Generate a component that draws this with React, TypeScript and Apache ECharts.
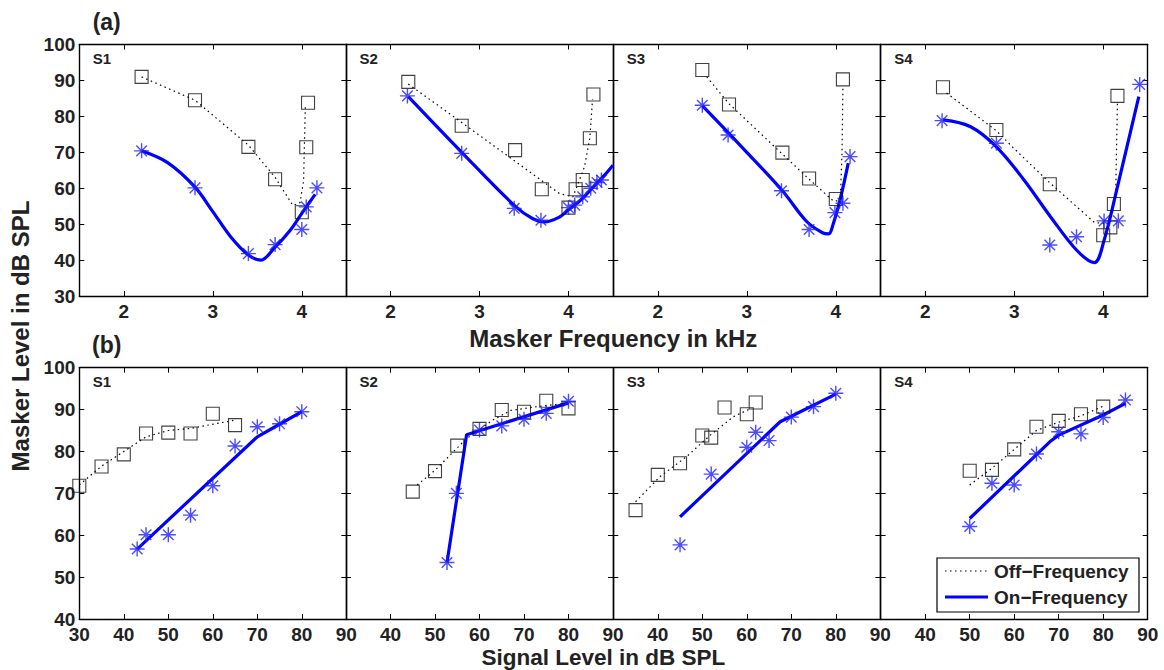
import React, { useEffect, useRef } from "react";
import * as echarts from "echarts";

// ---------- Row (a): masker frequency (kHz) vs masker level (dB SPL) ----------
const aS1OffPts = [[2.2, 91.0], [2.8, 84.5], [3.4, 71.5], [3.7, 62.5], [4.0, 53.3], [4.05, 71.4], [4.07, 83.8]];
const aS1OffFit = [[2.2, 91], [2.8, 84.5], [3.4, 72], [3.7, 63], [3.9, 55.2], [3.98, 56], [4.02, 62], [4.04, 83]];
const aS1OnPts = [[2.2, 70.4], [2.8, 60.1], [3.4, 41.8], [3.7, 44.3], [4.0, 48.5], [4.05, 54.8], [4.17, 60.1]];
const aS1OnFit = [[2.2, 70.4], [2.5, 67], [2.8, 60.3], [3.0, 53.5], [3.2, 46.5], [3.4, 41.4], [3.54, 40], [3.69, 43.3], [3.87, 48.3], [4.0, 53], [4.15, 58.3]];

const aS2OffPts = [[2.2, 89.6], [2.8, 77.4], [3.4, 70.6], [3.7, 59.7], [4.0, 54.6], [4.08, 59.7], [4.16, 62.3], [4.24, 73.9], [4.28, 86.1]];
const aS2OffFit = [[2.2, 89], [2.8, 78.3], [3.4, 67.5], [3.9, 58.5], [4.05, 57.6], [4.18, 66], [4.24, 74], [4.27, 84.7]];
const aS2OnPts = [[2.19, 85.7], [2.8, 69.7], [3.39, 54.4], [3.69, 51.1], [4.0, 54.6], [4.07, 55.3], [4.16, 57.6], [4.25, 60], [4.32, 61.6], [4.37, 62.3]];
const aS2OnFit = [[2.2, 85.5], [2.8, 70], [3.4, 55], [3.6, 51.5], [3.73, 50.6], [3.9, 52], [4.0, 54], [4.15, 57], [4.28, 60.4], [4.4, 63.5], [4.5, 66.4]];

const aS3OffPts = [[2.5, 92.9], [2.8, 83.3], [3.4, 69.9], [3.7, 62.7], [4.0, 57.0], [4.08, 90.3]];
const aS3OffFit = [[2.55, 91], [2.8, 83.5], [3.4, 69.5], [3.7, 62.5], [3.97, 56.5], [4.05, 56.5], [4.07, 70], [4.08, 88]];
const aS3OnPts = [[2.5, 83.1], [2.79, 74.8], [3.39, 59.3], [3.7, 48.5], [3.99, 53.2], [4.08, 55.8], [4.16, 68.8]];
const aS3OnFit = [[2.5, 83], [3.0, 70], [3.4, 59.3], [3.67, 50.8], [3.85, 47.6], [3.92, 47.3], [3.97, 50], [4.05, 57], [4.14, 67]];

const aS4OffPts = [[2.2, 88.1], [2.8, 76.2], [3.4, 61.1], [4.0, 46.9], [4.08, 49.1], [4.12, 55.6], [4.16, 85.7]];
const aS4OffFit = [[2.24, 86.5], [2.8, 76], [3.0, 71], [3.4, 61.5], [3.9, 50.5], [4.05, 50], [4.14, 58], [4.16, 84]];
const aS4OnPts = [[2.19, 78.8], [2.8, 72.5], [3.4, 44.2], [3.7, 46.5], [4.01, 50.9], [4.17, 50.9], [4.41, 88.9]];
const aS4OnFit = [[2.2, 79], [2.51, 77.1], [2.8, 71.5], [3.11, 62.3], [3.41, 52], [3.7, 42.8], [3.9, 39.3], [4.01, 45.5], [4.16, 60.4], [4.4, 85.5]];

// ---------- Row (b): signal level (dB SPL) vs masker level (dB SPL) ----------
const bS1OffPts = [[30, 71.8], [35, 76.4], [40, 79.3], [45, 84.3], [50, 84.5], [55, 84.3], [60, 89.0], [65, 86.3]];
const bS1OffFit = [[30, 72], [35, 76.5], [40, 80], [45, 83.5], [50, 85], [55, 85.5], [60, 86.5], [65, 87.5]];
const bS1OnPts = [[43, 56.7], [45, 60.1], [50, 60.1], [55, 64.8], [60, 71.8], [65, 81.3], [70, 85.9], [75, 86.6], [80, 89.5]];
const bS1OnFit = [[43, 56.7], [70, 83.5], [75, 86.5], [80, 89.5]];

const bS2OffPts = [[45, 70.4], [50, 75.3], [55, 81.4], [60, 85.4], [65, 89.9], [70, 89.5], [75, 92.1], [80, 90.3]];
const bS2OffFit = [[46, 72], [50, 75.5], [57, 83], [63, 87.5], [67, 89.8], [75, 91], [80, 91.5]];
const bS2OnPts = [[52.7, 53.5], [54.8, 70.0], [60, 85.1], [65, 86.1], [70, 87.7], [75, 89.1], [80, 92]];
const bS2OnFit = [[52.7, 53.5], [57.1, 84], [80, 91.6]];

const bS3OffPts = [[35, 66.0], [40, 74.4], [45, 77.2], [50, 83.8], [52, 83.3], [55, 90.5], [60, 88.9], [62, 91.7]];
const bS3OffFit = [[35, 68], [40.5, 74], [46.5, 78.8], [51.8, 83.9], [57, 88.3], [61, 90.3]];
const bS3OnPts = [[45, 57.7], [52, 74.6], [60, 81.0], [62, 84.6], [65, 82.6], [70, 88.2], [75, 90.7], [80, 93.9]];
const bS3OnFit = [[45, 64.4], [67.5, 87.1], [70, 88.4], [80, 93.7]];

const bS4OffPts = [[50, 75.4], [55, 75.6], [60, 80.5], [65, 85.9], [70, 87.3], [75, 88.9], [80, 90.7]];
const bS4OffFit = [[50, 72], [55, 76], [60, 80.5], [65, 85], [70, 87], [75, 88.5], [80, 90.8]];
const bS4OnPts = [[50, 62.1], [55, 72.4], [60, 72.0], [65, 79.4], [70, 84.7], [75, 84.2], [80, 88.1], [85, 92.3]];
const bS4OnFit = [[50, 64], [68, 82.3], [70, 83.9], [80, 88.7], [85, 91.5]];

const subjects = ["S1", "S2", "S3", "S4"];
const topXTicks = [2, 3, 4];
const topYTicks = [30, 40, 50, 60, 70, 80, 90, 100];
const botXTicksFirst = [30, 40, 50, 60, 70, 80, 90];
const botXTicksOther = [40, 50, 60, 70, 80, 90];
const botYTicks = [40, 50, 60, 70, 80, 90, 100];

const panels = [
  { row: 0, off: aS1OffPts, offFit: aS1OffFit, on: aS1OnPts, onFit: aS1OnFit },
  { row: 0, off: aS2OffPts, offFit: aS2OffFit, on: aS2OnPts, onFit: aS2OnFit },
  { row: 0, off: aS3OffPts, offFit: aS3OffFit, on: aS3OnPts, onFit: aS3OnFit },
  { row: 0, off: aS4OffPts, offFit: aS4OffFit, on: aS4OnPts, onFit: aS4OnFit },
  { row: 1, off: bS1OffPts, offFit: bS1OffFit, on: bS1OnPts, onFit: bS1OnFit },
  { row: 1, off: bS2OffPts, offFit: bS2OffFit, on: bS2OnPts, onFit: bS2OnFit },
  { row: 1, off: bS3OffPts, offFit: bS3OffFit, on: bS3OnPts, onFit: bS3OnFit },
  { row: 1, off: bS4OffPts, offFit: bS4OffFit, on: bS4OnPts, onFit: bS4OnFit },
];

const FONT = "'Liberation Sans', Arial, Helvetica, sans-serif";
const TXT = "#222";
const BLUE = "#0000ff";
const STAR = "path://M0,-10L0,10M-10,0L10,0M-7.07,-7.07L7.07,7.07M-7.07,7.07L7.07,-7.07";

const LEFTS = [79.3, 346, 613.3, 880.7];
const PW = 267;
const ROW_TOP = [44.5, 367.7];
const ROW_H = [251.5, 251.3];

function buildOption() {
  const grid: any[] = [];
  const xAxis: any[] = [];
  const yAxis: any[] = [];
  const series: any[] = [];
  const axisLine = { show: true, lineStyle: { color: "#000", width: 1.4 } };
  const tick = { show: true, inside: true, length: 5, lineStyle: { color: "#000", width: 1 } };
  const lab = { color: TXT, fontFamily: FONT, fontWeight: "bold", fontSize: 19 };

  panels.forEach((p, i) => {
    const col = i % 4;
    grid.push({ left: LEFTS[col], top: ROW_TOP[p.row], width: PW, height: ROW_H[p.row], containLabel: false });
  });
  panels.forEach((p, i) => {
    const col = i % 4;
    const xTicks = p.row === 0 ? topXTicks : col === 0 ? botXTicksFirst : botXTicksOther;
    xAxis.push({
      type: "value", gridIndex: i, position: "bottom",
      min: p.row === 0 ? 1.5 : 30, max: p.row === 0 ? 4.5 : 90,
      splitLine: { show: false }, axisLine,
      axisTick: { ...tick, customValues: p.row === 0 ? topXTicks : botXTicksFirst },
      axisLabel: { ...lab, margin: 6, customValues: xTicks, showMinLabel: true, showMaxLabel: true },
    });
    const yT = p.row === 0 ? topYTicks : botYTicks;
    yAxis.push({
      type: "value", gridIndex: i, position: "left",
      min: p.row === 0 ? 30 : 40, max: 100, interval: 10,
      splitLine: { show: false }, axisLine,
      axisTick: { ...tick, customValues: yT },
      axisLabel: { ...lab, show: col === 0, margin: 4, customValues: yT },
    });
  });
  panels.forEach((p, i) => {
    xAxis.push({
      type: "value", gridIndex: i, position: "top",
      min: p.row === 0 ? 1.5 : 30, max: p.row === 0 ? 4.5 : 90,
      splitLine: { show: false }, axisLine,
      axisTick: { ...tick, customValues: p.row === 0 ? topXTicks : botXTicksFirst },
      axisLabel: { show: false },
    });
    const yT = p.row === 0 ? topYTicks : botYTicks;
    yAxis.push({
      type: "value", gridIndex: i, position: "right",
      min: p.row === 0 ? 30 : 40, max: 100, interval: 10,
      splitLine: { show: false }, axisLine,
      axisTick: { ...tick, customValues: yT },
      axisLabel: { show: false },
    });
  });

  panels.forEach((p, i) => {
    series.push({
      type: "line", name: "Off−Frequency", xAxisIndex: i, yAxisIndex: i,
      data: p.offFit, showSymbol: false, symbol: "none", silent: true, z: 2,
      lineStyle: { color: "#000", width: 1.2, type: [1.5, 3.5] },
    });
    series.push({
      type: "line", name: "On−Frequency", xAxisIndex: i, yAxisIndex: i,
      data: p.onFit, showSymbol: false, symbol: "none", silent: true, z: 3,
      smooth: p.row === 0 ? 0.35 : false,
      lineStyle: { color: BLUE, width: 3.2 },
    });
    series.push({
      type: "scatter", name: "off pts", xAxisIndex: i, yAxisIndex: i,
      data: p.off, symbol: "rect", symbolSize: 13, silent: true, z: 4,
      itemStyle: { color: "rgba(255,255,255,0)", borderColor: "#111", borderWidth: 1.1 },
    });
    series.push({
      type: "scatter", name: "on pts", xAxisIndex: i, yAxisIndex: i,
      data: p.on, symbol: STAR, symbolSize: 15, silent: true, z: 5,
      itemStyle: { color: "rgba(0,0,0,0)", borderColor: "#1f1fff", borderWidth: 1.4 },
    });
  });

  const graphic: any[] = [];
  const t = (text: string, x: number, y: number, size: number) => ({
    type: "text", x, y, z: 100,
    style: {
      text, fill: TXT, fontFamily: FONT, fontWeight: "bold", fontSize: size,
      align: "center", verticalAlign: "middle",
    },
  });
  graphic.push(t("(a)", 106.7, 21.7, 23));
  graphic.push(t("(b)", 106.7, 345, 23));
  panels.forEach((p, i) => {
    const col = i % 4;
    graphic.push({
      type: "text", x: LEFTS[col] + 13.5, y: ROW_TOP[p.row] + 14, z: 100,
      style: { text: subjects[col], fill: TXT, fontFamily: FONT, fontWeight: "bold", fontSize: 15, align: "left", verticalAlign: "middle" },
    });
  });
  graphic.push(t("Masker Frequency in kHz", 613.3, 338, 24));
  graphic.push(t("Signal Level in dB SPL", 603.3, 657.5, 22.5));
  graphic.push({
    type: "text", x: 20, y: 336, rotation: Math.PI / 2, z: 100,
    style: { text: "Masker Level in dB SPL", fill: TXT, fontFamily: FONT, fontWeight: "bold", fontSize: 24, align: "center", verticalAlign: "middle" },
  });
  graphic.push({
    type: "rect", z: 100, shape: { x: 937, y: 558, width: 202, height: 54 },
    style: { fill: "#fff", stroke: "#000", lineWidth: 1.2 },
  });
  graphic.push({
    type: "line", z: 101, shape: { x1: 945, y1: 571, x2: 987, y2: 571 },
    style: { stroke: "#000", lineWidth: 1.2, lineDash: [1.5, 3.5] },
  });
  graphic.push({
    type: "line", z: 101, shape: { x1: 945, y1: 597, x2: 988, y2: 597 },
    style: { stroke: BLUE, lineWidth: 3.2 },
  });
  graphic.push({
    type: "text", x: 994, y: 571, z: 101,
    style: { text: "Off−Frequency", fill: TXT, fontFamily: FONT, fontWeight: "bold", fontSize: 19, align: "left", verticalAlign: "middle" },
  });
  graphic.push({
    type: "text", x: 994, y: 597, z: 101,
    style: { text: "On−Frequency", fill: TXT, fontFamily: FONT, fontWeight: "bold", fontSize: 19, align: "left", verticalAlign: "middle" },
  });

  return { animation: false, backgroundColor: "#fff", grid, xAxis, yAxis, series, graphic };
}

export default function App() {
  const ref = useRef<HTMLDivElement>(null);
  useEffect(() => {
    if (!ref.current) return;
    const chart = echarts.init(ref.current, null, { renderer: "svg" });
    chart.setOption(buildOption());
    return () => chart.dispose();
  }, []);
  return (
    <div
      ref={ref}
      style={{ position: "fixed", left: 0, top: 0, width: 1164, height: 670, background: "#fff" }}
    />
  );
}
